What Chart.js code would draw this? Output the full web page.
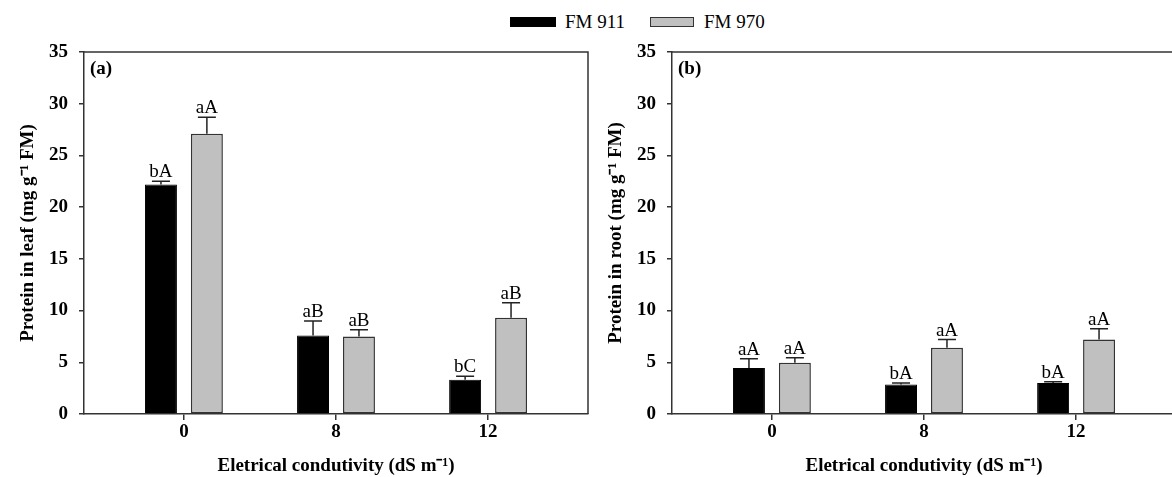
<!DOCTYPE html>
<html>
<head>
<meta charset="utf-8">
<script src="https://cdn.jsdelivr.net/npm/chart.js@4.4.1/dist/chart.umd.min.js"></script>
<style>
  html, body { margin: 0; padding: 0; background: #fff; width: 1172px; height: 477px; overflow: hidden; }
  .panel { position: absolute; top: 0; }
  .leg { position: absolute; font-family: 'Liberation Serif', 'Times New Roman', serif; font-size: 19px; color: #000; line-height: 19px; }
  .box { position: absolute; box-sizing: border-box; }
</style>
</head>
<body>
<div class="box" style="left:510px;top:17px;width:46px;height:10px;background:#000;"></div>
<div class="leg" style="left:565px;top:12px;">FM 911</div>
<div class="box" style="left:650px;top:17px;width:44px;height:10px;background:#c0c0c0;border:1.5px solid #333;"></div>
<div class="leg" style="left:704px;top:12px;">FM 970</div>

<div class="panel" style="left:0px;"><canvas id="leaf" width="592" height="477"></canvas></div>
<div class="panel" style="left:588px;"><canvas id="root" width="592" height="477"></canvas></div>

<script>
// x categories: electrical conductivity (dS m-1)
var categories = ['0', '8', '12'];
var yTicks = [0, 5, 10, 15, 20, 25, 30, 35];

// (a) protein in leaf
var leaf911 = [22.2, 7.6, 3.3];
var leaf911Err = [0.3, 1.4, 0.35];
var leaf911Letters = ['bA', 'aB', 'bC'];
var leaf970 = [27.1, 7.5, 9.3];
var leaf970Err = [1.6, 0.65, 1.45];
var leaf970Letters = ['aA', 'aB', 'aB'];

// (b) protein in root
var root911 = [4.45, 2.85, 3.0];
var root911Err = [0.9, 0.15, 0.12];
var root911Letters = ['aA', 'bA', 'bA'];
var root970 = [4.95, 6.4, 7.2];
var root970Err = [0.5, 0.8, 1.05];
var root970Letters = ['aA', 'aA', 'aA'];

var serif = "'Liberation Serif', 'Times New Roman', serif";
var axisColor = '#333';

// error bars + letters above each bar
var errorBars = {
    id: 'errorBars',
    afterDatasetsDraw: function(chart) {
        var ctx = chart.ctx;
        var yScale = chart.scales.y;
        ctx.save();
        chart.data.datasets.forEach(function(ds, i) {
            var meta = chart.getDatasetMeta(i);
            meta.data.forEach(function(bar, j) {
                var yTop = yScale.getPixelForValue(ds.data[j].y + ds.errors[j]);
                ctx.strokeStyle = '#222';
                ctx.lineWidth = 1.5;
                ctx.beginPath();
                ctx.moveTo(bar.x, bar.y);
                ctx.lineTo(bar.x, yTop);
                ctx.moveTo(bar.x - 9, yTop);
                ctx.lineTo(bar.x + 9, yTop);
                ctx.stroke();
                ctx.fillStyle = '#000';
                ctx.font = '19px ' + serif;
                ctx.textAlign = 'center';
                ctx.textBaseline = 'alphabetic';
                ctx.fillText(ds.letters[j], bar.x, yTop - 4);
            });
        });
        ctx.restore();
    }
};

// top and right sides of the box + panel tag
var frame = {
    id: 'frame',
    afterDraw: function(chart, args, opts) {
        var a = chart.chartArea;
        var ctx = chart.ctx;
        ctx.save();
        ctx.strokeStyle = axisColor;
        ctx.lineWidth = 1.5;
        ctx.beginPath();
        ctx.moveTo(a.left, a.top);
        ctx.lineTo(a.right, a.top);
        ctx.lineTo(a.right, a.bottom);
        ctx.stroke();
        ctx.fillStyle = '#000';
        ctx.font = 'bold 19px ' + serif;
        ctx.textAlign = 'left';
        ctx.textBaseline = 'middle';
        ctx.fillText(opts.tag, a.left + 6, a.top + 17);
        ctx.restore();
    }
};

function makePanel(id, tag, yTitle, v911, e911, l911, v970, e970, l970) {
    var ctx = document.getElementById(id).getContext('2d');
    return new Chart(ctx, {
        type: 'bar',
        data: {
            datasets: [{
                label: 'FM 911',
                data: v911.map(function(v, i) { return {x: i, y: v}; }),
                errors: e911,
                letters: l911,
                backgroundColor: '#000',
                borderColor: '#000',
                borderWidth: 1
            }, {
                label: 'FM 970',
                data: v970.map(function(v, i) { return {x: i, y: v}; }),
                errors: e970,
                letters: l970,
                backgroundColor: '#c0c0c0',
                borderColor: '#333',
                borderWidth: 1.5,
                borderSkipped: false
            }]
        },
        options: {
            responsive: false,
            animation: false,
            categoryPercentage: 0.604,
            barPercentage: 0.696,
            layout: { padding: { left: 0, top: 52, right: 4, bottom: 0 } },
            scales: {
                x: {
                    type: 'linear',
                    min: -0.657,
                    max: 2.657,
                    offset: false,
                    afterBuildTicks: function(s) {
                        s.ticks = categories.map(function(c, i) { return {value: i}; });
                    },
                    afterFit: function(s) { s.height = 63; },
                    ticks: {
                        callback: function(v) { return categories[v]; },
                        color: '#000',
                        font: { family: serif, size: 19, weight: 'bold' },
                        padding: 1,
                        maxRotation: 0
                    },
                    grid: { offset: false, drawOnChartArea: false, tickLength: 6, color: axisColor, lineWidth: 1.5 },
                    border: { color: axisColor, width: 1.5 },
                    title: {
                        display: true,
                        text: 'Eletrical condutivity (dS m\u207B\u00B9)',
                        color: '#000',
                        font: { family: serif, size: 19, weight: 'bold' },
                        padding: { top: 0, bottom: 0 }
                    }
                },
                y: {
                    min: 0,
                    max: 35,
                    afterBuildTicks: function(s) {
                        s.ticks = yTicks.map(function(v) { return {value: v}; });
                    },
                    afterFit: function(s) { s.width = 84; },
                    ticks: {
                        color: '#000',
                        font: { family: serif, size: 19, weight: 'bold' },
                        padding: 11
                    },
                    grid: { drawOnChartArea: false, tickLength: 5, color: axisColor, lineWidth: 1.5 },
                    border: { color: axisColor, width: 1.5 },
                    title: {
                        display: true,
                        text: yTitle,
                        color: '#000',
                        font: { family: serif, size: 19, weight: 'bold' },
                        padding: { top: 17, bottom: 0 }
                    }
                }
            },
            plugins: {
                legend: { display: false },
                tooltip: { enabled: false },
                frame: { tag: tag }
            }
        },
        plugins: [errorBars, frame]
    });
}

makePanel('leaf', '(a)', 'Protein in leaf (mg g\u207B\u00B9 FM)',
    leaf911, leaf911Err, leaf911Letters, leaf970, leaf970Err, leaf970Letters);
makePanel('root', '(b)', 'Protein in root (mg g\u207B\u00B9 FM)',
    root911, root911Err, root911Letters, root970, root970Err, root970Letters);
</script>
</body>
</html>
